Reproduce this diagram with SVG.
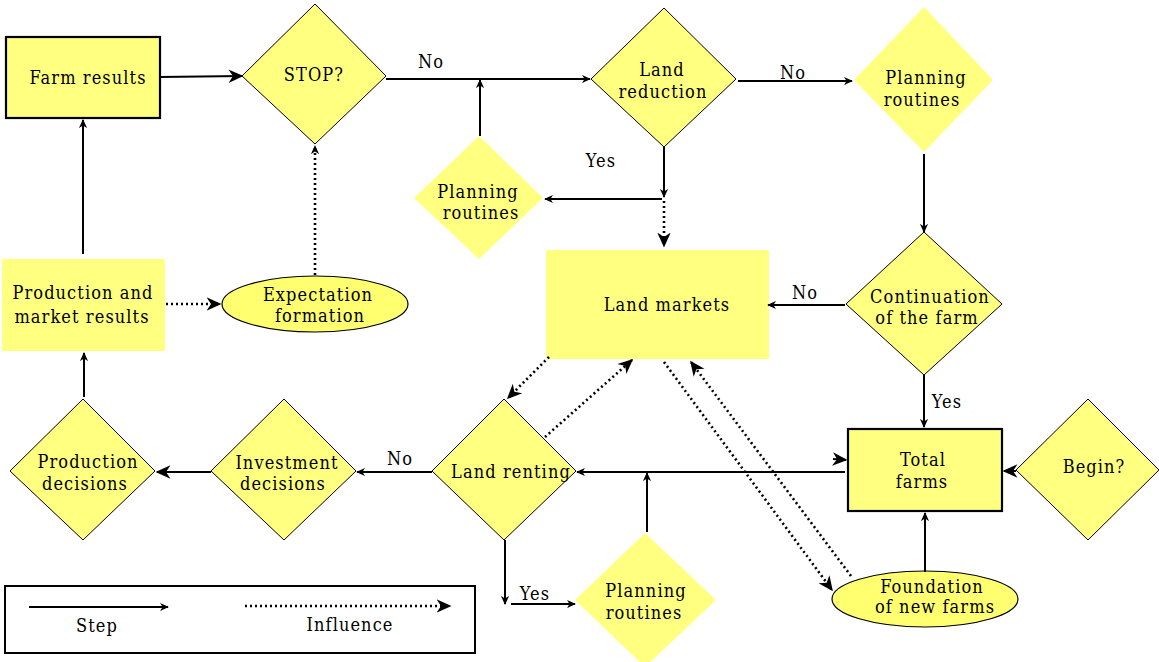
<svg xmlns="http://www.w3.org/2000/svg" width="1159" height="662" viewBox="0 0 1159 662">
<style>
.y{fill:#ffff80}
.ys{fill:#ffff80;stroke:#000;stroke-width:1}
.yb{fill:#ffff80;stroke:#000;stroke-width:2.2}
.el{fill:#ffff70;stroke:#000;stroke-width:1.2}
text{font-family:"DejaVu Serif Condensed","DejaVu Serif",serif;font-stretch:condensed;font-size:18px;letter-spacing:1.1px;text-anchor:middle;fill:#000}
.s{fill:none;stroke:#000;stroke-width:2}
.d{fill:none;stroke:#000;stroke-width:2.6;stroke-dasharray:2 3}
</style>
<defs>
<marker id="a" viewBox="0 0 10 10" refX="9" refY="5" markerWidth="9" markerHeight="9" markerUnits="userSpaceOnUse" orient="auto">
<path d="M0,0.5 L10,5 L0,9.5 L3,5 z" fill="#000"/>
</marker>
<marker id="b" viewBox="0 0 10 10" refX="9" refY="5" markerWidth="15" markerHeight="15" markerUnits="userSpaceOnUse" orient="auto">
<path d="M0,0.5 L10,5 L0,9.5 L3,5 z" fill="#000"/>
</marker>
</defs>

<g id="farm-results"><rect class="yb" x="6" y="37" width="154" height="81"/><text x="88" y="84">Farm results</text></g>
<g id="stop"><polygon class="ys" points="315,4 386,76 315,144 242,76"/><text x="314" y="81">STOP?</text></g>
<g id="production-market"><rect class="y" x="2" y="259" width="163" height="92"/><text x="83" y="299">Production and</text><text x="82" y="323">market results</text></g>
<g id="expectation"><ellipse class="el" cx="315" cy="304" rx="93" ry="28"/><text x="318" y="301">Expectation</text><text x="320" y="322">formation</text></g>
<g id="land-reduction"><polygon class="ys" points="664,8 736,79 664,147 591,79"/><text x="662" y="76">Land</text><text x="663" y="98">reduction</text></g>
<g id="planning-1"><polygon class="y" points="479,136 543,198 479,259 414,198"/><text x="478" y="198">Planning</text><text x="481" y="219">routines</text></g>
<g id="land-markets"><rect class="y" x="546" y="250" width="223" height="109"/><text x="667" y="311">Land markets</text></g>
<g id="planning-2"><polygon class="y" points="924,7 993,80 924,152 854,80"/><text x="926" y="84">Planning</text><text x="922" y="106">routines</text></g>
<g id="continuation"><polygon class="ys" points="924,232 1002,304 924,375 846,304"/><text x="930" y="303">Continuation</text><text x="927" y="324">of the farm</text></g>
<g id="total-farms"><rect class="yb" x="848" y="429" width="154" height="82"/><text x="923" y="466">Total</text><text x="922" y="488">farms</text></g>
<g id="begin"><polygon class="ys" points="1088,399 1159,470 1088,540 1016,470"/><text x="1094" y="473">Begin?</text></g>
<g id="foundation"><ellipse class="el" cx="925" cy="599" rx="93" ry="28"/><text x="932" y="593">Foundation</text><text x="935" y="613">of new farms</text></g>
<g id="land-renting"><polygon class="ys" points="504,399 576,471 504,540 432,471"/><text x="511" y="478">Land renting</text></g>
<g id="planning-3"><polygon class="y" points="645,533 716,600 645,667 575,600"/><text x="646" y="597">Planning</text><text x="644" y="619">routines</text></g>
<g id="investment"><polygon class="ys" points="284,399 356,471 284,540 211,471"/><text x="287" y="469">Investment</text><text x="283" y="490">decisions</text></g>
<g id="production-decisions"><polygon class="ys" points="83,399 155,471 83,540 10,471"/><text x="88" y="468">Production</text><text x="85" y="490">decisions</text></g>
<g id="legend"><rect x="5" y="586" width="470" height="67" fill="#fff" stroke="#000" stroke-width="2"/>
<line class="s" x1="29" y1="607" x2="168" y2="607" marker-end="url(#a)"/>
<line class="d" x1="245" y1="606" x2="450" y2="606" marker-end="url(#b)"/>
<text x="97" y="632">Step</text><text x="350" y="631">Influence</text></g>

<g id="connectors">
<line class="s" x1="160" y1="77" x2="242" y2="76" marker-end="url(#b)"/>
<line class="s" x1="83" y1="254" x2="83" y2="120" marker-end="url(#a)"/>
<line class="d" x1="166" y1="304" x2="220" y2="304" marker-end="url(#b)"/>
<line class="d" x1="315" y1="275" x2="315" y2="146" marker-end="url(#a)"/>
<line class="s" x1="386" y1="79" x2="590" y2="79" marker-end="url(#a)"/>
<line class="s" x1="480" y1="136" x2="480" y2="80" marker-end="url(#a)"/>
<line class="s" x1="664" y1="147" x2="664" y2="197" marker-end="url(#a)"/>
<line class="s" x1="662" y1="199" x2="545" y2="199" marker-end="url(#a)"/>
<line class="d" x1="664" y1="201" x2="664" y2="246" marker-end="url(#b)"/>
<line class="s" x1="738" y1="81" x2="852" y2="81" marker-end="url(#a)"/>
<line class="s" x1="924" y1="154" x2="924" y2="232" marker-end="url(#a)"/>
<line class="s" x1="845" y1="305" x2="768" y2="305" marker-end="url(#a)"/>
<line class="s" x1="924" y1="375" x2="924" y2="427" marker-end="url(#a)"/>
<line class="s" x1="1016" y1="471" x2="1004" y2="471" marker-end="url(#b)"/>
<line class="s" x1="925" y1="572" x2="925" y2="513" marker-end="url(#a)"/>
<line class="s" x1="845" y1="472" x2="577" y2="472" marker-end="url(#a)"/>
<line class="s" x1="833" y1="459" x2="846" y2="460" marker-end="url(#b)"/>
<line class="s" x1="647" y1="532" x2="647" y2="473" marker-end="url(#a)"/>
<line class="s" x1="505" y1="540" x2="505" y2="604" marker-end="url(#a)"/>
<line class="s" x1="511" y1="604" x2="575" y2="604" marker-end="url(#a)"/>
<line class="s" x1="432" y1="472" x2="357" y2="472" marker-end="url(#a)"/>
<line class="s" x1="211" y1="472" x2="157" y2="472" marker-end="url(#b)"/>
<line class="s" x1="84" y1="397" x2="84" y2="353" marker-end="url(#a)"/>
<line class="d" x1="549" y1="357" x2="508" y2="398" marker-end="url(#b)"/>
<line class="d" x1="545" y1="437" x2="632" y2="360" marker-end="url(#b)"/>
<line class="d" x1="664" y1="362" x2="832" y2="590" marker-end="url(#b)"/>
<line class="d" x1="851" y1="576" x2="691" y2="362" marker-end="url(#b)"/>
<text x="431" y="68">No</text>
<text x="601" y="167">Yes</text>
<text x="793" y="79">No</text>
<text x="805" y="299">No</text>
<text x="947" y="408">Yes</text>
<text x="535" y="600">Yes</text>
<text x="400" y="465">No</text>
</g>
</svg>
